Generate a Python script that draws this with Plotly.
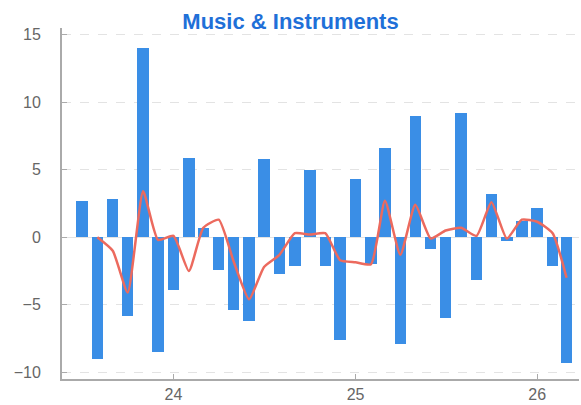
import plotly.graph_objects as go
import pandas as pd

months = pd.date_range("2023-07-01", "2026-03-01", freq="MS").strftime("%Y-%m-%d").tolist()

bar_values = [2.7, -9.0, 2.8, -5.8, 14.0, -8.5,
              -3.9, 5.9, 0.7, -2.4, -5.4, -6.2, 5.8, -2.7, -2.1, 5.0, -2.1, -7.6,
              4.3, -2.0, 6.6, -7.9, 9.0, -0.9, -6.0, 9.2, -3.2, 3.2, -0.25, 1.2,
              2.2, -2.1, -9.3]

line_values = [None, 0.0, -1.0, -4.1, 3.4, -0.2,
               0.1, -2.5, 0.7, 1.3, -1.8, -4.6, -2.2, -1.3, 0.3, 0.2, 0.3, -1.7,
               -1.85, -2.0, 2.7, -1.3, 2.4, -0.1, 0.5, 0.7, 0.1, 2.6, -0.1, 1.3,
               1.15, 0.3, -3.0]

y_ticks = [-10, -5, 0, 5, 10, 15]
title_text = "Music & Instruments"

fig = go.Figure()
fig.add_trace(go.Bar(
    x=months, y=bar_values,
    width=23 * 86400000,
    marker=dict(color="#3a8ee6", line=dict(width=0)),
    showlegend=False,
))
fig.add_trace(go.Scatter(
    x=months, y=line_values, mode="lines",
    line=dict(color="#ec6a5e", width=2.5, shape="spline", smoothing=0.5),
    connectgaps=False, showlegend=False,
))

fig.update_layout(
    width=581, height=405,
    margin=dict(l=62, r=2, t=28, b=23),
    paper_bgcolor="white", plot_bgcolor="white",
    font=dict(family="Liberation Sans, Arial, sans-serif", color="#666666", size=16),
    title=dict(text="<b>" + title_text + "</b>", x=0.5, xref="container", xanchor="center",
               y=1 - 21 / 405, yref="container", yanchor="middle",
               font=dict(size=22, color="#1f70d8", family="Liberation Sans, Arial, sans-serif")),
    bargap=0,
)
fig.update_xaxes(
    type="date",
    range=["2023-05-22", "2026-03-26"],
    tickformat="%y", dtick="M12", tick0="2024-01-01",
    showline=True, linecolor="#aaaaaa", linewidth=2,
    ticks="inside", ticklen=5, tickcolor="#aaaaaa",
    showgrid=False, zeroline=False,
    ticklabelstandoff=0,
    tickfont=dict(size=16, color="#666666"),
)
fig.update_yaxes(
    range=[-10.5, 15.5],
    tickvals=y_ticks,
    showline=True, linecolor="#aaaaaa", linewidth=2,
    ticks="inside", ticklen=5, tickcolor="#aaaaaa",
    showgrid=True, gridcolor="#e3e3e3", griddash="dash", gridwidth=1,
    zeroline=True, zerolinecolor="#e3e3e3", zerolinewidth=1,
    ticklabelstandoff=16,
    tickfont=dict(size=16, color="#666666"),
)

fig.write_html(
    "out.html",
    config={"displayModeBar": False},
    post_script="document.body.style.margin='0';document.body.style.overflow='hidden';",
)
